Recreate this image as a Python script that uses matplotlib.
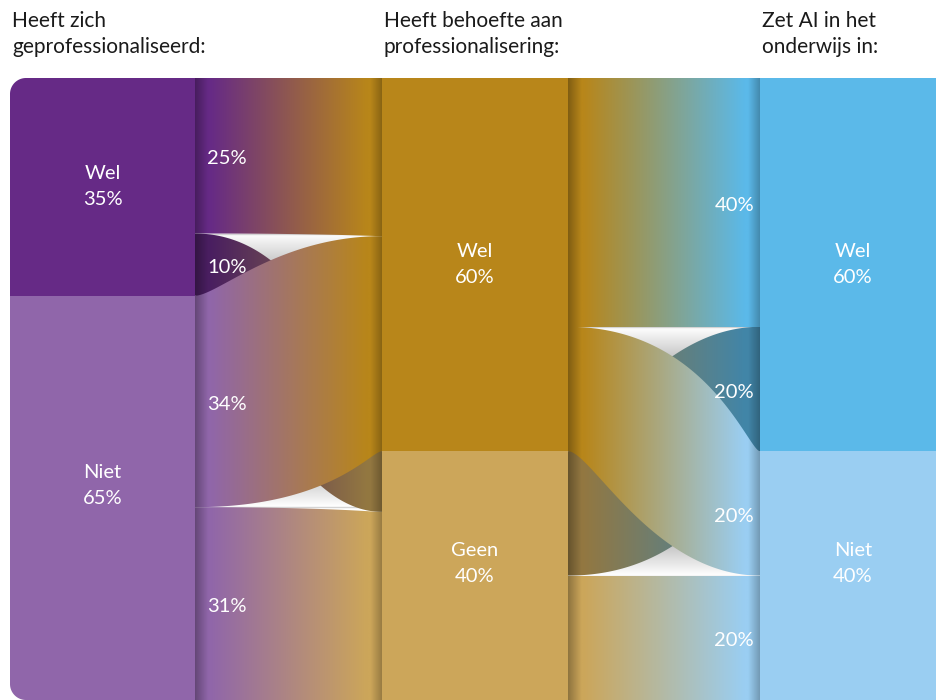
import numpy as np
import matplotlib.pyplot as plt
from matplotlib.patches import Polygon, Rectangle
from matplotlib.colors import to_rgb

plt.rcParams['font.family'] = ['Lato', 'DejaVu Sans']

# ---------------------------------------------------------------- data
titles = ["Heeft zich\ngeprofessionaliseerd:",
          "Heeft behoefte aan\nprofessionalisering:",
          "Zet AI in het\nonderwijs in:"]

col1_labels = ["Wel", "Niet"]
col1_values = [35, 65]
col2_labels = ["Wel", "Geen"]
col2_values = [60, 40]
col3_labels = ["Wel", "Niet"]
col3_values = [60, 40]

flow1_source = ["Wel", "Wel", "Niet", "Niet"]
flow1_target = ["Wel", "Geen", "Wel", "Geen"]
flow1_values = [25, 10, 34, 31]

flow2_source = ["Wel", "Wel", "Geen", "Geen"]
flow2_target = ["Wel", "Niet", "Wel", "Niet"]
flow2_values = [40, 20, 20, 20]

# ---------------------------------------------------------------- style / layout
col1_colors = ['#662a86', '#9066aa']
col2_colors = ['#b8861a', '#cca65a']
col3_colors = ['#5bb9e9', '#9acef2']

TOP, BOTTOM = 78, 700
LABEL_BOTTOM = 675
col_x = [(10, 195), (382, 568), (760, 946)]
band_x = [(195, 382), (568, 760)]
# drawing order per band (straight ones first, then the one underneath)
order1, under1 = [0, 3, 1, 2], [1]
order2, under2 = [0, 3, 2, 1], [2]

fig = plt.figure(figsize=(9.37, 7.0), dpi=100)
ax = fig.add_axes([0, 0, 1, 1])
ax.set_xlim(0, 937)
ax.set_ylim(700, 0)
ax.axis('off')


def node_extents(values):
    total = sum(values)
    cum = np.concatenate([[0], np.cumsum(values)]) / total * (BOTTOM - TOP) + TOP
    return list(zip(cum[:-1], cum[1:]))


def flow_extents(node_labels, node_ext, keys, values):
    ext = [None] * len(values)
    for k, lab in enumerate(node_labels):
        idx = [i for i, key in enumerate(keys) if key == lab]
        tot = sum(values[i] for i in idx)
        y0, y1 = node_ext[k]
        acc = 0
        for i in idx:
            a = y0 + acc / tot * (y1 - y0)
            acc += values[i]
            ext[i] = (a, y0 + acc / tot * (y1 - y0))
    return ext


def edge(x0, x1, y0, y1, a, b, n=200):
    t = np.linspace(0, 1, n)
    w = x1 - x0
    px = [x0, x0 + a * w, x1 - b * w, x1]
    py = [y0, y0, y1, y1]
    c = [(1 - t) ** 3, 3 * t * (1 - t) ** 2, 3 * t ** 2 * (1 - t), t ** 3]
    return sum(ci * p for ci, p in zip(c, px)), sum(ci * p for ci, p in zip(c, py))


EARLY = (0.12, 0.55)
LATE = (0.72, 0.06)


def gradient(c0, c1, dark=1.0, n=300):
    t = np.linspace(0, 1, n)
    s = np.clip((t - 0.08) / 0.84, 0, 1)
    rgb = (1 - s)[:, None] * np.array(to_rgb(c0)) + s[:, None] * np.array(to_rgb(c1))
    shade = 1 - 0.3 * np.clip(1 - t / 0.07, 0, 1) - 0.25 * np.clip(1 - (1 - t) / 0.06, 0, 1)
    return np.clip(rgb * shade[:, None] * dark, 0, 1)[None, :, :]


def draw_band(bx, src_labels, src_colors, src_ext, tgt_labels, tgt_colors, tgt_ext,
              sources, targets, values, order, under, label_side):
    x0, x1 = bx
    s_ext = flow_extents(src_labels, src_ext, sources, values)
    t_ext = flow_extents(tgt_labels, tgt_ext, targets, values)

    # shaded background for the gaps between the straight ribbons
    g_top = s_ext[order[0]][1]
    g_bot = s_ext[order[1]][0]
    ys = np.linspace(g_top, g_bot, 300)
    d = np.minimum(ys - g_top, g_bot - ys)
    v = 1 - 0.3 * np.clip(d / 40, 0, 1)
    bg = np.repeat(v[:, None, None], 3, axis=2)
    ax.imshow(bg, extent=(x0, x1, g_bot, g_top), aspect='auto', zorder=1)
    ax.plot([x0, x1], [g_top, g_top], color='#d4d4d4', lw=1, zorder=1.5)
    ax.plot([x0, x1], [g_bot, g_bot], color='#d4d4d4', lw=1, zorder=1.5)

    for z, i in enumerate(order):
        (sa, sb), (ta, tb) = s_ext[i], t_ext[i]
        down = ta > sa
        top_ab = LATE if down else EARLY
        bot_ab = EARLY if down else LATE
        tx, ty = edge(x0, x1, sa, ta, *top_ab)
        bxs, bys = edge(x0, x1, sb, tb, *bot_ab)
        pts = np.column_stack([np.concatenate([tx, bxs[::-1]]),
                               np.concatenate([ty, bys[::-1]])])
        poly = Polygon(pts, closed=True, fc='none', ec='none')
        ax.add_patch(poly)
        c0 = src_colors[src_labels.index(sources[i])]
        c1 = tgt_colors[tgt_labels.index(targets[i])]
        img = gradient(c0, c1, dark=0.72 if i in under else 1.0)
        im = ax.imshow(img, extent=(x0, x1, max(bys.max(), ty.max()), min(ty.min(), bys.min())),
                       aspect='auto', interpolation='bilinear', zorder=2 + z * 0.1)
        im.set_clip_path(poly)

        if label_side == 'left':
            ax.text(x0 + 12, (sa + sb) / 2 + 3, f"{values[i]}%", color='white', fontsize=14.5,
                    ha='left', va='center', zorder=5)
        else:
            ax.text(x1 - 6, (ta + tb) / 2 + 3, f"{values[i]}%", color='white', fontsize=14.5,
                    ha='right', va='center', zorder=5)


ext1 = node_extents(col1_values)
ext2 = node_extents(col2_values)
ext3 = node_extents(col3_values)

draw_band(band_x[0], col1_labels, col1_colors, ext1, col2_labels, col2_colors, ext2,
          flow1_source, flow1_target, flow1_values, order1, under1, 'left')
draw_band(band_x[1], col2_labels, col2_colors, ext2, col3_labels, col3_colors, ext3,
          flow2_source, flow2_target, flow2_values, order2, under2, 'right')

# nodes
for (cx0, cx1), labels, values, colors, ext in zip(
        col_x, [col1_labels, col2_labels, col3_labels],
        [col1_values, col2_values, col3_values],
        [col1_colors, col2_colors, col3_colors], [ext1, ext2, ext3]):
    for lab, val, colr, (y0, y1) in zip(labels, values, colors, ext):
        ax.add_patch(Rectangle((cx0, y0), cx1 - cx0, y1 - y0, fc=colr, ec='none', zorder=4))
        yc = (y0 + min(y1, LABEL_BOTTOM)) / 2
        ax.text((cx0 + cx1) / 2, yc - 13, lab, color='white', fontsize=14.5,
                ha='center', va='center', zorder=5)
        ax.text((cx0 + cx1) / 2, yc + 13, f"{val}%", color='white', fontsize=14.5,
                ha='center', va='center', zorder=5)

# rounded left corners
r = 16
ang = np.linspace(0, np.pi / 2, 30)
cx, cy = col_x[0][0] + r, TOP + r
ax.add_patch(Polygon(np.column_stack([np.r_[cx - r - 1, cx - r * np.cos(ang), cx - r - 1],
                                      np.r_[TOP - 1, cy - r * np.sin(ang), TOP - 1]]),
                     fc='white', ec='none', zorder=6))
ax.add_patch(Polygon(np.column_stack([np.r_[cx - r - 1, cx - r - 1, cx - r * np.cos(ang)[::-1]],
                                      np.r_[BOTTOM - r, BOTTOM + 1, BOTTOM - r + r * np.sin(ang)[::-1]]]),
                     fc='white', ec='none', zorder=6))

# column titles
for (cx0, _), title in zip(col_x, titles):
    l1, l2 = title.split("\n")
    ax.text(cx0 + 2, 21, l1, color='#1a1a1a', fontsize=15, ha='left', va='center')
    ax.text(cx0 + 2, 47, l2, color='#1a1a1a', fontsize=15, ha='left', va='center')

fig.savefig('out.png', dpi=100)
